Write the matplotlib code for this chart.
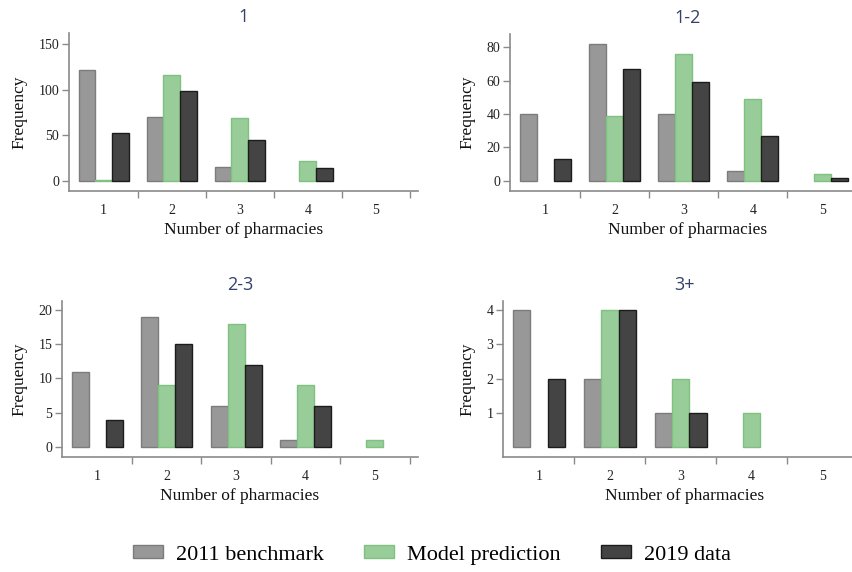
import numpy as np
import matplotlib
matplotlib.use("Agg")
import matplotlib.pyplot as plt
from matplotlib.patches import Patch

plt.rcParams['font.family'] = ['Liberation Serif', 'DejaVu Serif']

categories = [1, 2, 3, 4, 5]
panel_titles = ['1', '1-2', '2-3', '3+']
series_names = ['2011 benchmark', 'Model prediction', '2019 data']

# frequencies per panel: benchmark, model prediction, 2019 data
bench_1 = [122, 70, 15, 0, 0]
model_1 = [1, 116, 69, 22, 0]
data_1 = [52, 98, 45, 14, 0]

bench_12 = [40, 82, 40, 6, 0]
model_12 = [0, 39, 76, 49, 4]
data_12 = [13, 67, 59, 27, 2]

bench_23 = [11, 19, 6, 1, 0]
model_23 = [0, 9, 18, 9, 1]
data_23 = [4, 15, 12, 6, 0]

bench_3p = [4, 2, 1, 0, 0]
model_3p = [0, 4, 2, 1, 0]
data_3p = [2, 4, 1, 0, 0]

yticks_1 = [0, 50, 100, 150]
yticks_12 = [0, 20, 40, 60, 80]
yticks_23 = [0, 5, 10, 15, 20]
yticks_3p = [1, 2, 3, 4]

faces = ['#989898', '#98cc98', '#444444']
edges = ['#7c7c7c', '#80c080', '#1c1c1c']
axis_col = '#8a8a8a'
title_col = '#34416a'

W, H = 853, 572
fig = plt.figure(figsize=(W / 100, H / 100), dpi=100)

def px_axes(left, right, top, bottom):
    return fig.add_axes([left / W, 1 - bottom / H, (right - left) / W, (bottom - top) / H])

panels = [
    (px_axes(69, 418, 33, 191), [bench_1, model_1, data_1], yticks_1, (-11, 162)),
    (px_axes(510, 865, 34, 191), [bench_12, model_12, data_12], yticks_12, (-6, 87.8)),
    (px_axes(62, 418, 301, 457), [bench_23, model_23, data_23], yticks_23, (-1.46, 21.3)),
    (px_axes(503, 866, 301, 457), [bench_3p, model_3p, data_3p], yticks_3p, (-0.28, 4.26)),
]

x = np.array(categories, dtype=float)
bw = 0.245
offsets = [-bw, 0, bw]

for (ax, series, yt, ylim), title in zip(panels, panel_titles):
    for vals, off, fc, ec in zip(series, offsets, faces, edges):
        v = np.array(vals, dtype=float)
        m = v > 0
        ax.bar(x[m] + off, v[m], width=bw, color=fc, edgecolor=ec, linewidth=1.0)
    ax.set_xlim(0.49, 5.62)
    ax.set_ylim(*ylim)
    ax.set_yticks(yt)
    ax.set_xticks(categories)
    ax.set_xticks([c + 0.5 for c in categories], minor=True)
    ax.tick_params(axis='x', which='major', length=0, pad=9, labelsize=10, colors='#222222')
    ax.tick_params(axis='x', which='minor', length=5, color=axis_col, width=1)
    ax.tick_params(axis='y', length=5, color=axis_col, width=1, labelsize=10,
                   labelcolor='#222222', pad=2)
    for s in ['top', 'right']:
        ax.spines[s].set_visible(False)
    for s in ['left', 'bottom']:
        ax.spines[s].set_color(axis_col)
        ax.spines[s].set_linewidth(1.2)
    ax.set_xlabel('Number of pharmacies', fontsize=12.5, labelpad=4, color='#111111')
    ax.set_ylabel('Frequency', fontsize=12.5, labelpad=8, color='#111111')
    ax.set_title(title, fontsize=13, color=title_col, pad=8, family='Open Sans')

handles = [Patch(facecolor=fc, edgecolor=ec, linewidth=1.0) for fc, ec in zip(faces, edges)]
fig.legend(handles, series_names, loc='center', bbox_to_anchor=(432 / W, 1 - 555 / H),
           ncol=3, frameon=False, fontsize=16, handlelength=1.35, handleheight=0.5,
           handletextpad=0.6, columnspacing=1.8)

fig.savefig('out.png', dpi=100)
